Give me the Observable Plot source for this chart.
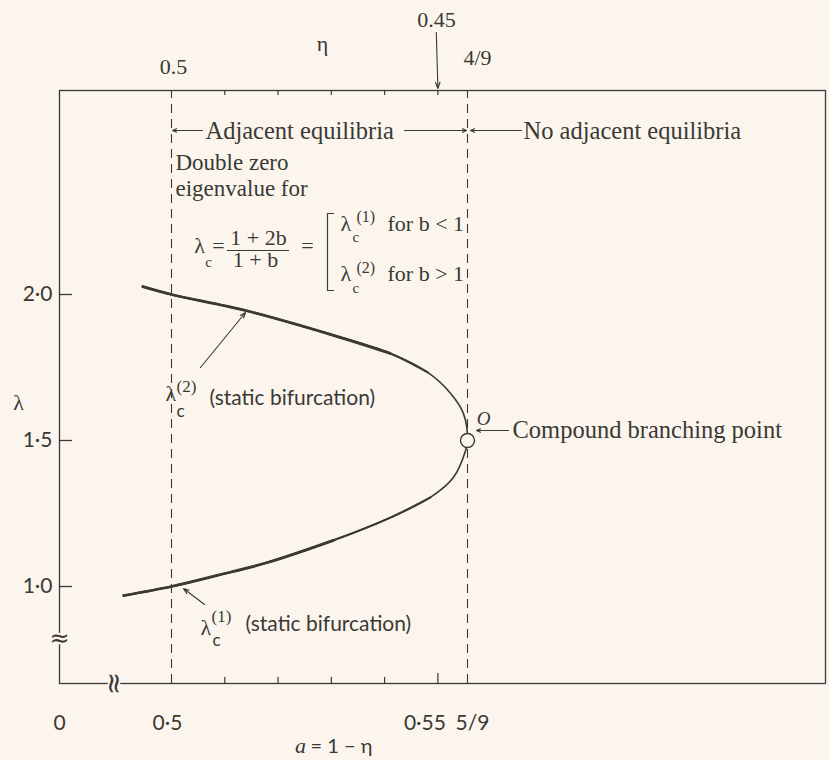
<!DOCTYPE html>
<html>
<head>
<meta charset="utf-8">
<script src="https://cdn.jsdelivr.net/npm/d3@7"></script>
<script src="https://cdn.jsdelivr.net/npm/@observablehq/plot@0.6"></script>
<style>
  html, body { margin: 0; padding: 0; background: #fbf5ee; }
  #chart svg { display: block; }
</style>
</head>
<body>
<div id="chart"></div>
<script>
// Critical load λ_c of the static bifurcation against a = 1 − η.
// The two branches λ_c^(1) (b < 1) and λ_c^(2) (b > 1) meet at the
// compound branching point a = 5/9 (η = 4/9), λ = 1.5.

// Upper branch λ_c^(2), from the left end to the branching point
const upperA   = [0.4946, 0.5, 0.5139, 0.5304, 0.5411, 0.5481, 0.5524, 0.5548, 5 / 9];
const upperLam = [2.027, 2.0, 1.945, 1.860, 1.798, 1.733, 1.661, 1.592, 1.5];
// Lower branch λ_c^(1), from the branching point back to the left end
const lowerA   = [5 / 9, 0.5552, 0.5529, 0.5486, 0.5411, 0.5304, 0.5180, 0.5086, 0.5, 0.4910];
const lowerLam = [1.5, 1.466, 1.373, 1.305, 1.236, 1.158, 1.082, 1.038, 1.0, 0.969];

// Axes
const yTickValues = [1.0, 1.5, 2.0];
const yTickLabels = ["1·0", "1·5", "2·0"];
const aMinorTicks = [0.51, 0.52, 0.53, 0.54];
const aMajorTicks = [0.55];
const etaTicks = [0.49, 0.48, 0.47, 0.46, 0.45];
const boundaries = [0.5, 5 / 9];          // a = 1/2 (η = 0.5) and a = 5/9 (η = 4/9)
const branchPoint = [{a: 5 / 9, lam: 1.5}];

// Layout
const W = 829, H = 760;
const M = {top: 90, right: 4, bottom: 77, left: 59};
const xDomain = [0.47898, 0.62275];
const yDomain = [0.6678, 2.6986];
const perPxX = (xDomain[1] - xDomain[0]) / (W - M.left - M.right);
const perPxY = (yDomain[1] - yDomain[0]) / (H - M.top - M.bottom);

const bg = "#fbf5ee";
const ink = "#3a3934";
const serif = "Liberation Serif";
const sans = "Lato";
const noteSize = 24.5;

const curve = [
  ...upperA.map((a, i) => ({a, lam: upperLam[i]})),
  ...lowerA.slice(1).map((a, i) => ({a, lam: lowerLam[i + 1]}))
];
// The outer parts of both branches are inked more heavily, tapering towards O
const outerPart = (n, m) => [
  ...upperA.slice(0, n).map((a, i) => ({a, lam: upperLam[i], part: "upper"})),
  ...lowerA.slice(m).map((a, i) => ({a, lam: lowerLam[i + m], part: "lower"}))
];
const medium = outerPart(6, 3);
const heavy = outerPart(5, 5);

const txt = (data, opts) => Plot.text(data, {fill: ink, ...opts});

const chart = Plot.plot({
  width: W,
  height: H,
  marginTop: M.top,
  marginRight: M.right,
  marginBottom: M.bottom,
  marginLeft: M.left,
  x: {domain: xDomain, axis: null},
  y: {domain: yDomain, axis: null},
  style: {background: bg, color: ink, overflow: "visible"},
  marks: [
    Plot.frame({stroke: ink, strokeWidth: 1.3}),

    // a = 1/2 and a = 5/9
    Plot.ruleX(boundaries, {y1: yDomain[0], y2: yDomain[1], stroke: ink, strokeWidth: 1.1, strokeDasharray: "9,6"}),

    // ticks
    Plot.ruleY(yTickValues, {x1: xDomain[0], x2: xDomain[0] + 13 * perPxX, stroke: ink, strokeWidth: 1.3}),
    Plot.ruleX(aMinorTicks, {y1: yDomain[0], y2: yDomain[0] + 6 * perPxY, stroke: ink, strokeWidth: 1.2}),
    Plot.ruleX(aMajorTicks, {y1: yDomain[0], y2: yDomain[0] + 10 * perPxY, stroke: ink, strokeWidth: 1.2}),
    Plot.ruleX(etaTicks, {x: (e) => 1 - e, y1: yDomain[1], y2: yDomain[1] - 5 * perPxY, stroke: ink, strokeWidth: 1.2}),

    // axis breaks
    txt([{a: xDomain[0], lam: 0.8219}], {x: "a", y: "lam", text: () => "≈", fontFamily: "DejaVu Sans", fontSize: 24, stroke: bg, strokeWidth: 4}),
    txt([{a: 0.48911, lam: yDomain[0]}], {x: "a", y: "lam", text: () => "≈", rotate: 90, fontFamily: "DejaVu Sans", fontSize: 28, stroke: bg, strokeWidth: 4}),

    // λ_c curve
    Plot.line(curve, {x: "a", y: "lam", curve: "catmull-rom", stroke: ink, strokeWidth: 1.6}),
    Plot.line(medium, {x: "a", y: "lam", z: "part", curve: "catmull-rom", stroke: ink, strokeWidth: 2.1}),
    Plot.line(heavy, {x: "a", y: "lam", z: "part", curve: "catmull-rom", stroke: ink, strokeWidth: 2.7}),
    Plot.dot(branchPoint, {x: "a", y: "lam", r: 7, stroke: ink, strokeWidth: 1.4, fill: bg}),

    // left axis labels
    txt(yTickValues, {x: xDomain[0], y: (d) => d, text: (d, i) => yTickLabels[i], dx: -7, textAnchor: "end", fontFamily: sans, fontSize: 21}),
    txt([{a: 0.47128, lam: 1.6301}], {x: "a", y: "lam", text: () => "λ", fontFamily: serif, fontSize: 22}),

    // bottom axis labels
    txt([{a: xDomain[0], t: "0"}], {x: "a", y: yDomain[0], text: "t", dy: 40, fontFamily: sans, fontSize: 21}),
    txt([{a: 0.5, t: "0·5"}], {x: "a", y: yDomain[0], text: "t", dy: 40, dx: -4, fontFamily: sans, fontSize: 21}),
    txt([{a: 0.55, t: "0·55"}], {x: "a", y: yDomain[0], text: "t", dy: 40, dx: 8, textAnchor: "end", fontFamily: sans, fontSize: 21}),
    txt([{a: 5 / 9, t: "5/9"}], {x: "a", y: yDomain[0], text: "t", dy: 40, dx: -12, textAnchor: "start", fontFamily: sans, fontSize: 21}),
    txt([{a: 0.52421}], {x: "a", y: yDomain[0], text: () => "a", dy: 69, lineAnchor: "bottom", fontFamily: serif, fontStyle: "italic", fontSize: 22}),
    txt([{a: 0.52609}], {x: "a", y: yDomain[0], text: () => "= 1 − η", dy: 69, lineAnchor: "bottom", textAnchor: "start", fontFamily: sans, fontSize: 20}),

    // top (η) axis labels
    txt([{a: 0.5 + 2 * perPxX, t: "0.5"}], {x: "a", y: yDomain[1], text: "t", dy: -17, lineAnchor: "bottom", fontFamily: serif, fontSize: 22}),
    txt([{a: 0.52834, t: "η"}], {x: "a", y: yDomain[1], text: "t", dy: -40, lineAnchor: "bottom", fontFamily: serif, fontSize: 22}),
    txt([{a: 0.54974, t: "0.45"}], {x: "a", y: yDomain[1], text: "t", dy: -64, lineAnchor: "bottom", fontFamily: serif, fontSize: 22}),
    txt([{a: 0.55743, t: "4/9"}], {x: "a", y: yDomain[1], text: "t", dy: -26, lineAnchor: "bottom", fontFamily: serif, fontSize: 22}),
    Plot.arrow([{x1: 0.5497, y1: 2.8973, x2: 0.55, y2: yDomain[1] + 2 * perPxY}], {x1: "x1", y1: "y1", x2: "x2", y2: "y2", stroke: ink, strokeWidth: 1.1, headLength: 9, headAngle: 40}),

    // regions on either side of a = 5/9
    Plot.arrow([
      {x1: 0.50582, x2: 0.5002},
      {x1: 0.54373, x2: 0.55537},
      {x1: 0.56569, x2: 0.55612}
    ], {x1: "x1", x2: "x2", y1: 2.5616, y2: 2.5616, stroke: ink, strokeWidth: 1.1, headLength: 6, headAngle: 50}),
    txt([{a: 0.50638, t: "Adjacent equilibria"}, {a: 0.56607, t: "No adjacent equilibria"}],
        {x: "a", y: 2.5342, text: "t", textAnchor: "start", lineAnchor: "bottom", fontFamily: serif, fontSize: noteSize}),
    txt([{lam: 2.4247, t: "Double zero"}, {lam: 2.3356, t: "eigenvalue for"}],
        {x: 0.50075, y: "lam", text: "t", textAnchor: "start", lineAnchor: "bottom", fontFamily: serif, fontSize: 23}),

    // λ_c = (1 + 2b)/(1 + b)
    txt([{a: 0.50526}], {x: "a", y: 2.1404, text: () => "λ", lineAnchor: "bottom", fontFamily: serif, fontSize: 22}),
    txt([{a: 0.50694}], {x: "a", y: 2.0925, text: () => "c", lineAnchor: "bottom", fontFamily: serif, fontSize: 15}),
    txt([{a: 0.50883}], {x: "a", y: 2.1404, text: () => "=", lineAnchor: "bottom", fontFamily: serif, fontSize: 22}),
    txt([{a: 0.51633, lam: 2.1712, t: "1 + 2b"}, {a: 0.51577, lam: 2.0925, t: "1 + b"}],
        {x: "a", y: "lam", text: "t", lineAnchor: "bottom", fontFamily: serif, fontSize: 22}),
    Plot.ruleY([2.1507], {x1: 0.51051, x2: 0.52215, stroke: ink, strokeWidth: 1.1}),
    txt([{a: 0.52553}], {x: "a", y: 2.1404, text: () => "=", lineAnchor: "bottom", fontFamily: serif, fontSize: 22}),
    Plot.line([
      {a: 0.53041, lam: 2.2774}, {a: 0.52928, lam: 2.2774},
      {a: 0.52928, lam: 2.0137}, {a: 0.53041, lam: 2.0137}
    ], {x: "a", y: "lam", stroke: ink, strokeWidth: 1.2}),
    txt([{lam: 2.2158}, {lam: 2.0445}], {x: 0.53172, y: "lam", text: () => "λ", textAnchor: "start", lineAnchor: "bottom", fontFamily: serif, fontSize: 22}),
    txt([{lam: 2.2466, t: "(1)"}, {lam: 2.0753, t: "(2)"}], {x: 0.53472, y: "lam", text: "t", textAnchor: "start", lineAnchor: "bottom", fontFamily: serif, fontSize: 16}),
    txt([{lam: 2.1781}, {lam: 2.0068}], {x: 0.53397, y: "lam", text: () => "c", textAnchor: "start", lineAnchor: "bottom", fontFamily: serif, fontSize: 15}),
    txt([{lam: 2.2158, t: "for b < 1"}, {lam: 2.0445, t: "for b > 1"}], {x: 0.54054, y: "lam", text: "t", textAnchor: "start", lineAnchor: "bottom", fontFamily: serif, fontSize: 22}),

    // branch labels
    Plot.arrow([{x1: 0.50544, y1: 1.75, x2: 0.51389, y2: 1.9384}, {x1: 0.50619, y1: 0.9384, x2: 0.50225, y2: 0.9932}],
        {x1: "x1", y1: "y1", x2: "x2", y2: "y2", stroke: ink, strokeWidth: 1.1, headLength: 8, headAngle: 40}),
    txt([{a: 0.49887, lam: 1.6336}, {a: 0.50544, lam: 0.8356}], {x: "a", y: "lam", text: () => "λ", textAnchor: "start", lineAnchor: "bottom", fontFamily: serif, fontSize: 22}),
    txt([{a: 0.50094, lam: 1.6644, t: "(2)"}, {a: 0.50751, lam: 0.8801, t: "(1)"}], {x: "a", y: "lam", text: "t", textAnchor: "start", lineAnchor: "bottom", fontFamily: serif, fontSize: 17}),
    txt([{a: 0.50094, lam: 1.5788}, {a: 0.5077, lam: 0.7979}], {x: "a", y: "lam", text: () => "c", textAnchor: "start", lineAnchor: "bottom", fontFamily: sans, fontSize: 17}),
    txt([{a: 0.50713, lam: 1.6438}, {a: 0.51389, lam: 0.8699}], {x: "a", y: "lam", text: () => "(static bifurcation)", textAnchor: "start", fontFamily: sans, fontSize: 21}),

    // compound branching point
    txt([{a: 0.55856, lam: 1.5753}], {x: "a", y: "lam", text: () => "O", fontFamily: serif, fontStyle: "italic", fontSize: 19}),
    Plot.arrow([{x1: 0.56325, x2: 0.55724}], {x1: "x1", x2: "x2", y1: 1.5342, y2: 1.5342, stroke: ink, strokeWidth: 1.1, headLength: 6, headAngle: 50}),
    txt([{a: 0.564, lam: 1.5342}], {x: "a", y: "lam", text: () => "Compound branching point", textAnchor: "start", fontFamily: serif, fontSize: noteSize})
  ]
});

document.getElementById("chart").appendChild(chart);
</script>
</body>
</html>
